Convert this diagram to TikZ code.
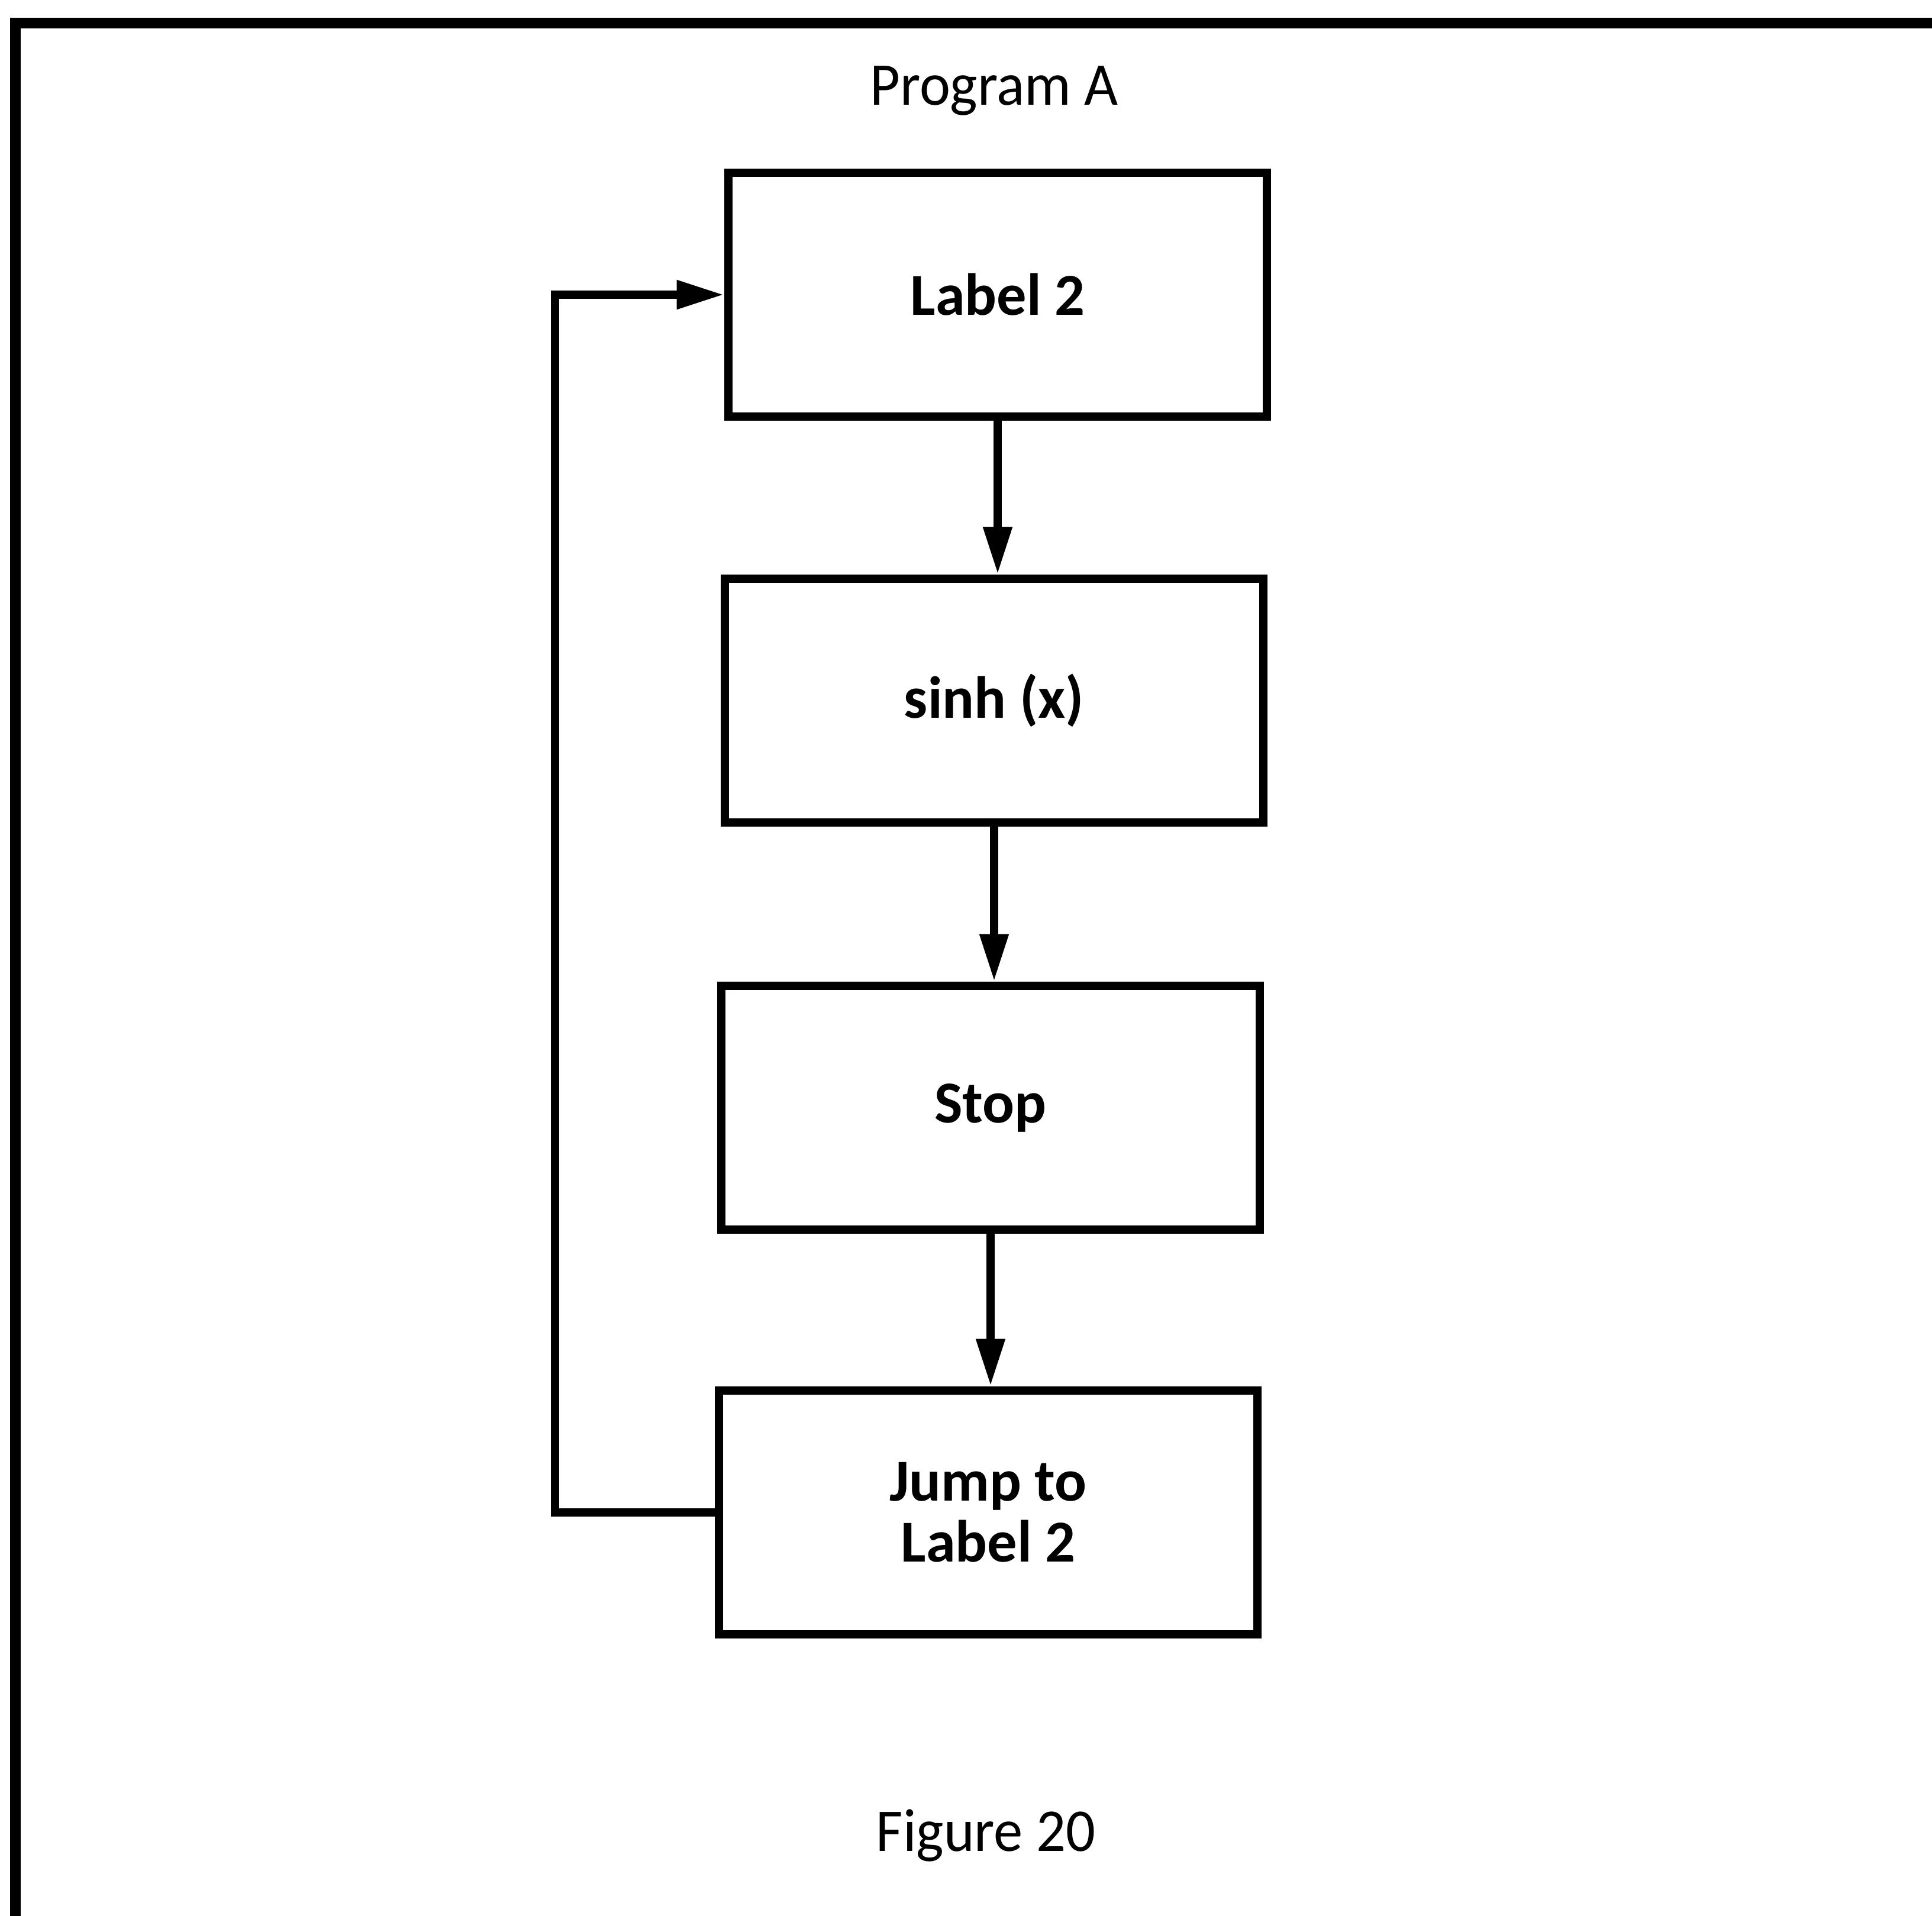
\documentclass[tikz,border=0pt]{standalone}
\usepackage{fontspec}
\setmainfont{Carlito}
\newfontfamily\capfont{Carlito}[FakeStretch=0.96]
\usetikzlibrary{arrows.meta}

\begin{document}
\begin{tikzpicture}[
  font=\fontsize{14.3}{14.6}\selectfont,
  stepbox/.style={draw, line width=2.1pt, align=center, font=\fontsize{14.3}{14.6}\selectfont\bfseries, minimum width=4.55cm, minimum height=2.06cm, fill=white},
  caption/.style={anchor=base, font=\fontsize{14.6}{17}\selectfont\capfont},
  arrow/.style={-{Triangle[length=0.4cm, width=0.23cm]}, line width=2pt},
  frame/.style={line width=2.5pt}
]
\useasboundingbox (0,0) rectangle (16.325,-16.19);

% page frame, cut off on the right and at the bottom
\draw[frame] (16.4,-0.195) -| (0.13,-16.3);

\node[caption] (title) at (8.40,-0.885) {Program A};

\node[stepbox] (lab) at (8.43,-2.49) {Label 2};
\node[stepbox] (sinh) at (8.40,-5.92) {sinh (x)};
\node[stepbox] (stop) at (8.37,-9.36) {Stop};
\node[stepbox] (jump) at (8.35,-12.78) {Jump to\\Label 2};

\draw[arrow] (lab.south) -- (lab.south |- sinh.north);
\draw[arrow] (sinh.south) -- (sinh.south |- stop.north);
\draw[arrow] (stop.south) -- (stop.south |- jump.north);
\draw[arrow] (jump.west) -- ++(-1.35,0) |- (lab.west);

\node[caption] (fig) at (8.33,-15.64) {Figure 20};

\end{tikzpicture}
\end{document}
